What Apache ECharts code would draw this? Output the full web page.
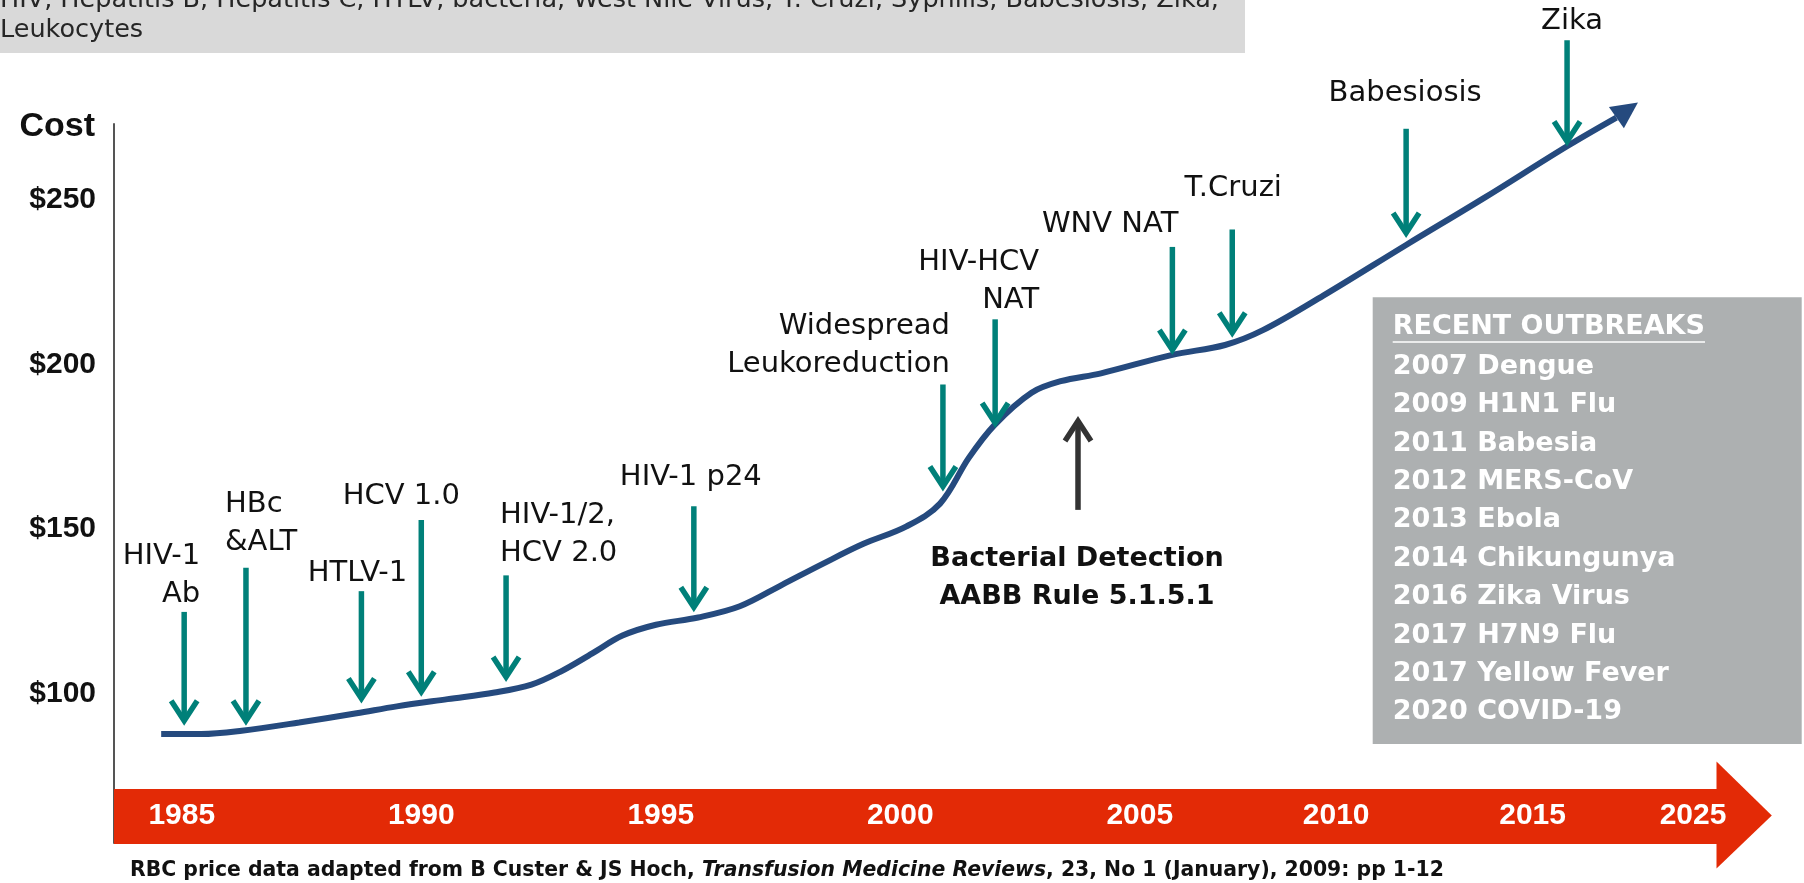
<!DOCTYPE html>
<html>
<head>
    <meta charset="UTF-8">
    <title>RBC cost and blood screening tests</title>
    <script type="text/javascript" src="https://cdn.jsdelivr.net/npm/echarts@6.0.0/dist/echarts.min.js"></script>
    <style>
        body { margin: 0; background: #fff; }
        #chart { width: 1804px; height: 883px; }
    </style>
</head>
<body>
<div id="chart"></div>
<script>
    // year labels on the red timeline and where each one sits on it (the drawn timeline is not to scale)
    var yearLabels = ['1985', '1990', '1995', '2000', '2005', '2010', '2015', '2025'];
    var yearPos = [1985, 1990, 1995, 2000, 2005, 2009.1, 2013.2, 2016.55];

    var costTicks = [100, 150, 200, 250];

    // red cell unit cost (last two points = arrow head base and tip)
    var curveX = [1984.57, 1985.41, 1986.25, 1987.45, 1988.65, 1989.49, 1990.55, 1991.53, 1992.30, 1992.90,
        1993.57, 1994.20, 1994.90, 1995.78, 1996.65, 1997.54, 1998.38, 1999.22, 2000.13, 2000.83,
        2001.43, 2001.96, 2002.74, 2003.35, 2004.19, 2005.68, 2006.78, 2007.57, 2008.83, 2010.56,
        2012.19, 2013.92, 2014.95, 2015.40];
    var curveY = [87.7, 87.7, 88.7, 91.2, 94.0, 96.1, 98.3, 100.3, 102.7, 106.6,
        112.2, 117.6, 120.9, 123.1, 126.5, 133.1, 139.4, 145.4, 150.8, 157.7,
        171.6, 181.5, 191.4, 194.9, 197.3, 202.9, 205.9, 210.4, 220.9, 236.3,
        250.6, 266.3, 275.0, 279.6];

    // tests added: arrow starts at eventFrom and points to eventTo
    var eventNames = ['HIV-1\nAb', 'HBc\n&ALT', 'HTLV-1', 'HCV 1.0', 'HIV-1/2,\nHCV 2.0', 'HIV-1 p24',
        'Widespread\nLeukoreduction', 'HIV-HCV\nNAT', 'Bacterial Detection\nAABB Rule 5.1.5.1',
        'WNV NAT', 'T.Cruzi', 'Babesiosis', 'Zika'];
    var eventX = [1985.05, 1986.34, 1988.75, 1990.00, 1991.77, 1995.69, 2000.89, 2001.98, 2003.71, 2005.68, 2006.93, 2010.56, 2013.92];
    var eventFrom = [124.8, 138.2, 131.1, 152.7, 135.9, 156.9, 193.9, 213.7, 155.8, 235.7, 241.0, 271.6, 298.5];
    var eventTo = [90.5, 90.5, 97.3, 99.3, 103.8, 125.0, 161.7, 181.0, 184.0, 203.2, 208.4, 238.7, 266.5];

    var outbreakYears = ['2007', '2009', '2011', '2012', '2013', '2014', '2016', '2017', '2017', '2020'];
    var outbreakNames = ['Dengue', 'H1N1 Flu', 'Babesia', 'MERS-CoV', 'Ebola', 'Chikungunya', 'Zika Virus', 'H7N9 Flu', 'Yellow Fever', 'COVID-19'];

    var agentsLine = 'HIV, Hepatitis B, Hepatitis C, HTLV, bacteria, West Nile Virus, T. Cruzi, Syphilis, Babesiosis, Zika,';

    // label placement next to each arrow (px from the arrow start)
    var labelLayout = [
        {align: 'right', dx: 16, dy: -17},
        {align: 'left', dx: -21, dy: -25},
        {align: 'center', dx: -4, dy: -18},
        {align: 'center', dx: -20, dy: -24},
        {align: 'left', dx: -6, dy: -22},
        {align: 'center', dx: -3, dy: -29},
        {align: 'right', dx: 7, dy: -20},
        {align: 'right', dx: 44, dy: -19},
        {align: 'center', dx: -1, dy: 49},
        {align: 'right', dx: 6, dy: -22},
        {align: 'center', dx: 1, dy: -41},
        {align: 'center', dx: -1, dy: -35},
        {align: 'center', dx: 5, dy: -19}
    ];

    var BLUE = '#254a7e', TEAL = '#008079', DARK = '#333333', RED = '#e32a06';
    var SANS = "'DejaVu Sans', sans-serif";
    var ARIAL = "'Liberation Sans', Arial, sans-serif";

    function textWidth(txt, font) {
        var ctx = document.createElement('canvas').getContext('2d');
        ctx.font = font;
        return ctx.measureText(txt).width;
    }

    var curveData = curveX.map(function (x, i) { return [x, curveY[i]]; });
    var last = curveData.length - 1;
    var headData = [curveData[last - 1].concat(curveData[last])];

    var eventData = eventX.map(function (x, i) { return [x, eventFrom[i], eventTo[i]]; });

    var outbreakText = outbreakYears.map(function (y, i) { return y + ' ' + outbreakNames[i]; }).join('\n');
    var headFont = 'bold 27px ' + SANS;

    var option = {
        animation: false,
        grid: {left: 114, right: 87, top: 124, bottom: 40},
        xAxis: {
            type: 'value',
            min: 1983.585,
            max: 2017.05,
            offset: -27,
            z: 5,
            splitLine: {show: false},
            axisTick: {show: false},
            axisLine: {
                show: true,
                lineStyle: {color: RED, width: 55, cap: 'butt'}
            },
            axisLabel: {
                customValues: yearPos,
                margin: 0,
                verticalAlign: 'middle',
                color: '#fff',
                fontFamily: ARIAL,
                fontWeight: 'bold',
                fontSize: 30,
                formatter: function (v) {
                    var i = yearPos.indexOf(v);
                    return i >= 0 ? yearLabels[i] : '';
                }
            }
        },
        yAxis: {
            type: 'value',
            min: 54.58,
            max: 273.05,
            splitLine: {show: false},
            axisTick: {show: false},
            axisLine: {show: true, lineStyle: {color: '#555', width: 2}},
            axisLabel: {
                customValues: costTicks,
                margin: 18,
                color: '#111',
                fontFamily: ARIAL,
                fontWeight: 'bold',
                fontSize: 30,
                formatter: function (v) { return '$' + v; }
            }
        },
        series: [
            {
                type: 'custom',
                name: 'tests',
                data: eventData,
                encode: {x: 0, y: [1, 2]},
                clip: false,
                z: 4,
                renderItem: function (params, api) {
                    var i = params.dataIndex;
                    var a = api.coord([api.value(0), api.value(1)]);
                    var b = api.coord([api.value(0), api.value(2)]);
                    var dir = b[1] > a[1] ? 1 : -1;
                    var color = dir > 0 ? TEAL : DARK;
                    var tip = b[1] - dir * 4;
                    var lay = labelLayout[i];
                    var lh = 38;
                    var bold = dir < 0;
                    var ty = dir > 0 ? a[1] + lay.dy + lh / 2 : a[1] + lay.dy - lh / 2;
                    return {
                        type: 'group',
                        children: [
                            {
                                type: 'line',
                                shape: {x1: a[0], y1: a[1], x2: b[0], y2: tip - dir * 3},
                                style: {stroke: color, lineWidth: 5.5}
                            },
                            {
                                type: 'polyline',
                                shape: {points: [[b[0] - 13, tip - dir * 20], [b[0], tip], [b[0] + 13, tip - dir * 20]]},
                                style: {stroke: color, lineWidth: 5.5, fill: null, lineJoin: 'miter'}
                            },
                            {
                                type: 'text',
                                x: a[0] + lay.dx,
                                y: ty,
                                style: {
                                    text: eventNames[i],
                                    fill: '#111',
                                    fontFamily: SANS,
                                    fontSize: bold ? 27 : 29,
                                    fontWeight: bold ? 'bold' : 'normal',
                                    lineHeight: lh,
                                    align: lay.align,
                                    verticalAlign: dir > 0 ? 'bottom' : 'top'
                                }
                            }
                        ]
                    };
                }
            },
            {
                type: 'line',
                name: 'RBC cost',
                data: curveData.slice(0, last),
                smooth: 0.35,
                showSymbol: false,
                clip: false,
                z: 3,
                lineStyle: {color: BLUE, width: 6}
            },
            {
                // arrow head at the end of the cost curve
                type: 'custom',
                name: 'RBC cost head',
                data: headData,
                encode: {x: [0, 2], y: [1, 3]},
                clip: false,
                z: 3,
                renderItem: function (params, api) {
                    var p = api.coord([api.value(0), api.value(1)]);
                    var q = api.coord([api.value(2), api.value(3)]);
                    var dx = q[0] - p[0], dy = q[1] - p[1];
                    var len = Math.sqrt(dx * dx + dy * dy);
                    var nx = -dy / len * 13, ny = dx / len * 13;
                    return {
                        type: 'polygon',
                        shape: {points: [[q[0], q[1]], [p[0] + nx, p[1] + ny], [p[0] - nx, p[1] - ny]]},
                        style: {fill: BLUE}
                    };
                }
            }
        ],
        graphic: [
            {type: 'rect', shape: {x: 0, y: 0, width: 1245, height: 53}, style: {fill: '#d9d9d9'}, z: -10},
            {
                type: 'text', x: 0, y: 0, z: -9,
                style: {text: agentsLine, fill: '#262626', fontFamily: SANS, fontSize: 25.5, verticalAlign: 'middle'}
            },
            {
                type: 'text', x: 0, y: 30, z: -9,
                style: {text: 'Leukocytes', fill: '#262626', fontFamily: SANS, fontSize: 25.5, verticalAlign: 'middle'}
            },
            {
                type: 'text', x: 95, y: 127,
                style: {text: 'Cost', fill: '#111', fontFamily: ARIAL, fontWeight: 'bold', fontSize: 34, align: 'right', verticalAlign: 'middle'}
            },
            {
                // head of the red timeline arrow
                type: 'polygon', z: 1,
                shape: {points: [[1716.5, 761.6], [1771.8, 815.5], [1716.5, 868.6]]},
                style: {fill: RED}
            },
            {type: 'rect', shape: {x: 1372.7, y: 297.3, width: 429, height: 446.7}, style: {fill: '#adb0b1'}, z: 1},
            {
                type: 'text', x: 1392.7, y: 326.7, z: 2,
                style: {text: 'RECENT OUTBREAKS', fill: '#fff', font: headFont, verticalAlign: 'middle'}
            },
            {
                type: 'line', z: 2,
                shape: {x1: 1392.7, y1: 342, x2: 1392.7 + textWidth('RECENT OUTBREAKS', headFont), y2: 342},
                style: {stroke: '#fff', lineWidth: 1.5}
            },
            {
                type: 'text', x: 1392.7, y: 366.7 - 19.2, z: 2,
                style: {text: outbreakText, fill: '#fff', fontFamily: SANS, fontWeight: 'bold', fontSize: 27, lineHeight: 38.4, verticalAlign: 'top'}
            },
            {
                type: 'text', x: 130, y: 871,
                style: {
                    text: '{b|RBC price data adapted from B Custer & JS Hoch, }{i|Transfusion Medicine Reviews}{b|, 23, No 1 (January), 2009: pp 1-12}',
                    verticalAlign: 'middle',
                    rich: {
                        b: {fontFamily: SANS, fontWeight: 'bold', fontSize: 20.4, fill: '#111'},
                        i: {fontFamily: SANS, fontWeight: 'bold', fontStyle: 'italic', fontSize: 20.4, fill: '#111'}
                    }
                }
            }
        ]
    };

    var chart = echarts.init(document.getElementById('chart'));
    chart.setOption(option);
</script>
</body>
</html>
